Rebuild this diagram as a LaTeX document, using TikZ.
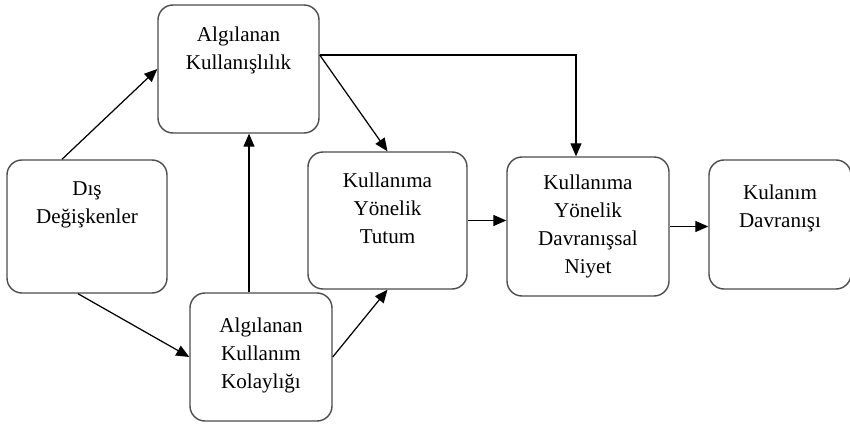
\documentclass[tikz,border=0pt]{standalone}
\usepackage{fontspec}
\setmainfont{Liberation Serif}
\usetikzlibrary{arrows.meta}

\begin{document}
\begin{tikzpicture}[
	kutu/.style={draw=black!70, line width=0.8pt, rounded corners=0.3cm},
	yazi/.style={anchor=north, inner sep=0pt, yshift=-0.44cm, align=center, font=\fontsize{12}{15.9}\selectfont},
	ok/.style={-{Triangle[length=2.6mm,width=2.2mm]}, line width=0.7pt}
	]
	\useasboundingbox (0,0) rectangle (17,8.48);
	
	\node[kutu, minimum width=3.22cm, minimum height=2.56cm, label={[yazi]north:Algılanan\\Kullanışlılık}] (AK) at (4.77, 7.10) {};
	\node[kutu, minimum width=3.2cm, minimum height=2.66cm, label={[yazi]north:Dış\\Değişkenler}] (DIS) at (1.74, 3.95) {};
	\node[kutu, minimum width=2.84cm, minimum height=2.56cm, label={[yazi, yshift=-0.06cm]north:Algılanan\\Kullanım\\Kolaylığı}] (AKK) at (5.22, 1.34) {};
	\node[kutu, minimum width=3.18cm, minimum height=2.74cm, label={[yazi, yshift=0.02cm]north:Kullanıma\\Yönelik\\Tutum}] (TUT) at (7.75, 4.07) {};
	\node[kutu, minimum width=3.24cm, minimum height=2.78cm, label={[yazi, yshift=0.08cm]north:Kullanıma\\Yönelik\\Davranışsal\\Niyet}] (NIY) at (11.76, 3.95) {};
	\node[kutu, minimum width=2.84cm, minimum height=2.58cm, label={[yazi, yshift=-0.06cm]north:Kulanım\\Davranışı}] (DAV) at (15.6, 3.99) {};
	
	\draw[ok] ([xshift=-0.5cm]DIS.north) -- (AK.west);
	\draw[ok] ([xshift=-0.18cm]DIS.south) -- (AKK.west);
	\draw[ok] ([xshift=-0.24cm]AKK.north) -- ([xshift=-0.24cm]AKK.north |- AK.south);
	\draw[ok] (AKK.east) -- (TUT.south);
	\draw[ok] ([yshift=0.28cm]AK.east) -- (TUT.north);
	\draw[ok] ([yshift=0.28cm]AK.east) -| ([xshift=-0.24cm]NIY.north);
	\draw[ok] (TUT.east) -- (TUT.east -| NIY.west);
	\draw[ok] (NIY.east) -- (NIY.east -| DAV.west);
\end{tikzpicture}
\end{document}
